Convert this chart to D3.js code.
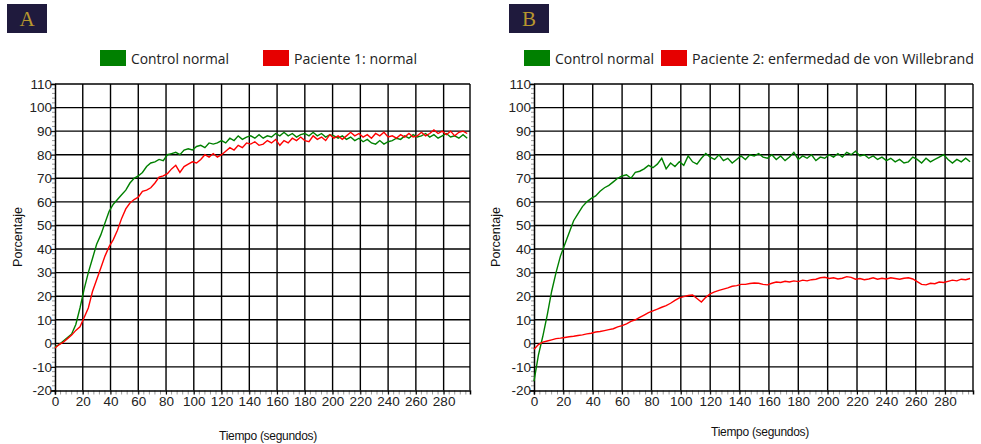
<!DOCTYPE html>
<html>
<head>
<meta charset="utf-8">
<script src="https://cdn.jsdelivr.net/npm/d3@7"></script>
<style>
  body { margin: 0; background: #fff; }
  svg { display: block; }
</style>
</head>
<body>
<div id="chart"></div>
<script>
let svgWidth = 981;
let svgHeight = 444;

// time axis, one sample every 3 seconds
let seconds = d3.range(0, 300, 3);

let xTicks = [0, 20, 40, 60, 80, 100, 120, 140, 160, 180, 200, 220, 240, 260, 280];
let yTicks = [-20, -10, 0, 10, 20, 30, 40, 50, 60, 70, 80, 90, 100, 110];

// panel A
let controlA = [-1.5, -0.5, 1, 2.5, 4, 8, 15, 23, 30, 36, 42, 46, 51, 56, 59, 61, 63, 65, 68, 70,
  71, 72.5, 75, 76.5, 77, 78, 77.5, 80, 80.5, 81, 80, 82, 82.5, 82, 83.5, 84, 83, 85, 84.5, 85,
  86, 85, 87, 86, 88, 86.5, 87.5, 88, 87, 88.5, 87, 88, 87.5, 89, 88, 89.5, 88, 89, 87.5, 88.5,
  89, 88, 89.5, 88, 89, 87.5, 88.5, 88, 87, 88, 86.5, 87.5, 86, 87, 85.5, 86.5, 85, 84.5, 86, 84.5,
  85.5, 86, 87, 86.5, 88, 87, 88.5, 87.5, 88, 89, 87.5, 88.5, 87, 88, 89, 87.5, 88, 87, 88.5, 87];
let patient1 = [-2, -0.5, 0.5, 2, 3.5, 5.5, 7, 11, 15, 22, 27, 32, 37, 41, 44, 48, 53, 57, 59.5, 61,
  62, 64.5, 65, 66, 68, 70.5, 71, 72, 74, 75.5, 72.5, 75, 76, 77, 76.5, 78, 80, 79, 80.5, 79,
  80, 81.5, 83, 82, 84, 83, 85, 84.5, 85.5, 84, 84.5, 86, 85, 86.5, 84, 86, 85, 87, 86, 87.5,
  86, 85.5, 88, 86.5, 87.5, 86, 88.5, 87, 88, 86.5, 88, 89.5, 88, 89, 87.5, 88.5, 87, 89, 88, 89.5,
  87.5, 88, 87, 88.5, 87.5, 89, 87.5, 88, 89.5, 88, 89, 90.5, 89, 90, 88.5, 90, 88, 89.5, 90, 89];

// panel B
let controlB = [-16, -5, 3, 12, 22, 30, 37, 42, 47, 52, 55, 58, 60, 61.5, 62.5, 64.5, 66, 67, 68.5, 70,
  71, 71.5, 70, 72.5, 73, 74, 75.5, 74.5, 76, 78.5, 74, 76.5, 75, 77, 75.5, 79.5, 77, 76, 78.5, 80.5,
  79, 78, 80, 77.5, 78.5, 76.5, 78, 79.5, 78, 80, 79.5, 80.5, 79, 78.5, 80, 78, 79.5, 77.5, 79, 81,
  78, 79.5, 78.5, 80, 77.5, 79, 78.5, 80, 79, 80.5, 79, 81, 80, 81.5, 79.5, 80, 78.5, 79.5, 78, 79,
  77.5, 78.5, 77, 78, 76.5, 77, 79, 78, 76.5, 78.5, 77, 78, 79, 80, 78, 76.5, 78, 77, 78.5, 77];
let patient2 = [-2.5, -0.5, 0.5, 1, 1.5, 2, 2.2, 2.5, 2.8, 3, 3.3, 3.6, 4, 4.3, 4.8, 5, 5.4, 5.8, 6.2, 7,
  7.5, 8.3, 9.3, 10, 11, 12, 13, 13.8, 14.5, 15.3, 16, 17, 18.2, 19.3, 19.8, 20.3, 20.5, 19, 17.5, 19.5,
  21, 21.8, 22.5, 23, 23.5, 24.2, 24.5, 25, 25, 25.4, 25.6, 25.5, 25, 24.8, 25.5, 26, 25.8, 26.3, 26, 26.5,
  26.2, 26.8, 26.5, 27, 27.2, 27.8, 28, 27.5, 27.8, 27.3, 27.6, 28.3, 28, 27.2, 27.5, 27, 27.3, 27.8, 27.2, 27.6,
  27.3, 27.8, 27.5, 27.2, 27.6, 27.8, 27.3, 26.2, 25, 24.8, 25.5, 25.3, 26, 25.8, 26.3, 26.8, 26.5, 27.2, 27, 27.5];

let green = "#008000";
let red = "#ff0000";
let sansFont = "'Liberation Sans', Arial, sans-serif";

let svg = d3.select("#chart")
  .append("svg")
  .attr("width", svgWidth)
  .attr("height", svgHeight);

function drawPanel(p) {
  let g = svg.append("g");

  // panel letter box
  g.append("rect")
    .attr("x", p.boxX).attr("y", 4)
    .attr("width", 40).attr("height", 29)
    .attr("fill", "#1f1a3d");
  g.append("text")
    .attr("x", p.boxX + 20).attr("y", 26)
    .attr("text-anchor", "middle")
    .style("font-family", "'Liberation Serif', 'DejaVu Serif', serif")
    .style("font-size", "21px")
    .style("fill", "#b8962e")
    .text(p.letter);

  let x = d3.scaleLinear().domain([0, 299]).range([p.left, p.right]);
  let y = d3.scaleLinear().domain([-20, 110]).range([390.5, 84]);

  // grid
  g.selectAll(".hgrid")
    .data(yTicks.slice(1))
    .enter()
    .append("line")
    .attr("x1", x(0)).attr("x2", x(299))
    .attr("y1", d => y(d)).attr("y2", d => y(d))
    .attr("stroke", "#000").attr("stroke-width", 1.4);
  g.selectAll(".vgrid")
    .data(xTicks.slice(1).concat([299]))
    .enter()
    .append("line")
    .attr("x1", d => x(d)).attr("x2", d => x(d))
    .attr("y1", y(-20)).attr("y2", y(110))
    .attr("stroke", "#000").attr("stroke-width", 1.4);

  // minor ticks
  g.selectAll(".ymin")
    .data(d3.range(-20, 111, 2))
    .enter()
    .append("line")
    .attr("x1", x(0) - 3).attr("x2", x(0))
    .attr("y1", d => y(d)).attr("y2", d => y(d))
    .attr("stroke", "#999").attr("stroke-width", 1);
  g.selectAll(".xmin")
    .data(d3.range(0, 299, 4))
    .enter()
    .append("line")
    .attr("x1", d => x(d)).attr("x2", d => x(d))
    .attr("y1", y(-20)).attr("y2", y(-20) + 4)
    .attr("stroke", "#999").attr("stroke-width", 1);

  // axes (plain hyphen for negatives, like the original)
  let leftAxis = d3.axisLeft(y).tickValues(yTicks).tickSize(4).tickFormat(d => String(d));
  let bottomAxis = d3.axisBottom(x).tickValues(xTicks).tickSize(4).tickFormat(d => String(d));

  let yAxis = g.append("g")
    .attr("transform", `translate(${x(0)}, 0)`)
    .call(leftAxis);
  let xAxis = g.append("g")
    .attr("transform", `translate(0, ${y(-20)})`)
    .call(bottomAxis);

  [yAxis, xAxis].forEach(a => {
    a.attr("font-family", null).attr("font-size", null);
    a.select(".domain").attr("stroke", "#000").attr("stroke-width", 1.5);
    a.selectAll(".tick line").attr("stroke", "#000");
    a.selectAll(".tick text")
      .style("font-family", sansFont)
      .style("font-size", "13.5px")
      .style("fill", "#222");
  });
  yAxis.selectAll(".tick text").attr("x", -3);
  xAxis.selectAll(".tick text").attr("y", 6);

  // series
  let line = d3.line()
    .x((d, i) => x(seconds[i]))
    .y(d => y(d));

  g.append("path")
    .datum(p.control)
    .attr("fill", "none")
    .attr("stroke", green)
    .attr("stroke-width", 1.4)
    .attr("d", line);
  g.append("path")
    .datum(p.patient)
    .attr("fill", "none")
    .attr("stroke", red)
    .attr("stroke-width", 1.4)
    .attr("d", line);

  // axis titles
  g.append("text")
    .attr("transform", `translate(${p.yTitleX}, 237) rotate(-90)`)
    .attr("text-anchor", "middle")
    .style("font-family", sansFont)
    .style("font-size", "12.5px")
    .style("fill", "#111")
    .text("Porcentaje");
  g.append("text")
    .attr("x", p.xTitleX).attr("y", p.xTitleY)
    .attr("text-anchor", "middle")
    .style("font-family", sansFont)
    .style("font-size", "12px")
    .style("letter-spacing", "-0.3px")
    .style("fill", "#111")
    .text("Tiempo (segundos)");

  // legend
  let legend = g.append("g");
  p.legend.forEach(item => {
    legend.append("rect")
      .attr("x", item.x).attr("y", 50)
      .attr("width", 26).attr("height", 16)
      .attr("fill", item.color);
    legend.append("text")
      .attr("x", item.x + 31).attr("y", 64)
      .attr("textLength", item.w)
      .attr("lengthAdjust", "spacingAndGlyphs")
      .style("font-family", "'Open Sans', 'Noto Sans', sans-serif")
      .style("font-size", "14.5px")
      .style("fill", "#222")
      .text(item.label);
  });
}

drawPanel({
  letter: "A", boxX: 7, left: 55, right: 470,
  control: controlA, patient: patient1,
  yTitleX: 22, xTitleX: 268, xTitleY: 440,
  legend: [
    { x: 100, color: "#008000", label: "Control normal", w: 98 },
    { x: 263, color: "#e60000", label: "Paciente 1: normal", w: 123 }
  ]
});

drawPanel({
  letter: "B", boxX: 509, left: 534, right: 973,
  control: controlB, patient: patient2,
  yTitleX: 500, xTitleX: 760, xTitleY: 436,
  legend: [
    { x: 524, color: "#008000", label: "Control normal", w: 99 },
    { x: 661, color: "#e60000", label: "Paciente 2: enfermedad de von Willebrand", w: 282 }
  ]
});
</script>
</body>
</html>
